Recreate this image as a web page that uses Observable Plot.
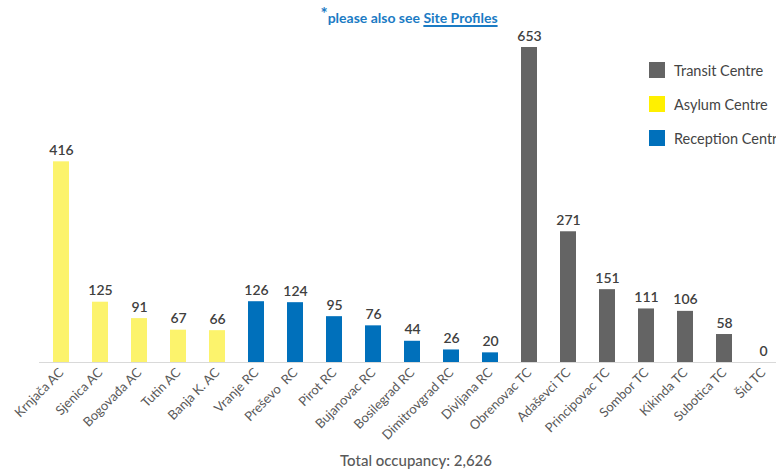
<!DOCTYPE html>
<html>
<head>
<meta charset="utf-8">
<script src="https://cdn.jsdelivr.net/npm/d3@7"></script>
<script src="https://cdn.jsdelivr.net/npm/@observablehq/plot@0.6"></script>
<style>
  html, body { margin: 0; padding: 0; background: #fff; }
  body { width: 776px; height: 473px; overflow: hidden; position: relative; font-family: Lato, "Open Sans", sans-serif; }
  #title { height: 28px; box-sizing: border-box; padding-left: 42px; text-align: center; font-weight: 700; font-size: 14px; color: #1b7bc4; line-height: 28px; padding-top: 4px; }
  #title sup { font-size: 17px; vertical-align: 3px; line-height: 0; }
  #title u { text-decoration-thickness: 1.5px; text-underline-offset: 2px; }
  #caption { height: 25px; padding-left: 56px; text-align: center; font-size: 15px; color: #595959; line-height: 25px; font-weight: 500; }
  #legend { position: absolute; left: 649px; top: 62px; }
  .item { display: flex; align-items: center; height: 16px; margin-bottom: 18px; white-space: nowrap; font-size: 14.5px; color: #444; }
  .sw { width: 16px; height: 16px; margin-right: 9px; flex: none; }
</style>
</head>
<body>
<div id="title"><sup>*</sup>please also see <u>Site Profiles</u></div>
<div id="chart"></div>
<div id="caption">Total occupancy: 2,626</div>
<div id="legend"></div>
<script>
const sites = ["Krnjača AC", "Sjenica AC", "Bogovađa AC", "Tutin AC", "Banja K. AC",
  "Vranje RC", "Preševo  RC", "Pirot RC", "Bujanovac RC", "Bosilegrad RC", "Dimitrovgrad RC", "Divljana RC",
  "Obrenovac TC", "Adaševci TC", "Principovac TC", "Sombor TC", "Kikinda TC", "Subotica TC", "Šid TC"];
const occupancy = [416, 125, 91, 67, 66, 126, 124, 95, 76, 44, 26, 20, 653, 271, 151, 111, 106, 58, 0];
const types = ["Asylum Centre", "Asylum Centre", "Asylum Centre", "Asylum Centre", "Asylum Centre",
  "Reception Centre", "Reception Centre", "Reception Centre", "Reception Centre", "Reception Centre", "Reception Centre", "Reception Centre",
  "Transit Centre", "Transit Centre", "Transit Centre", "Transit Centre", "Transit Centre", "Transit Centre", "Transit Centre"];
const legendTypes = ["Transit Centre", "Asylum Centre", "Reception Centre"];
const barColors = {"Transit Centre": "#646464", "Asylum Centre": "#fcf36c", "Reception Centre": "#0070bb"};
const legendColors = {"Transit Centre": "#646464", "Asylum Centre": "#fff000", "Reception Centre": "#0070bb"};

const data = sites.map((s, i) => ({site: s, value: occupancy[i], type: types[i]}));

const chart = Plot.plot({
  width: 776,
  height: 420,
  marginLeft: 39,
  marginRight: 0,
  marginTop: 19,
  marginBottom: 86,
  style: {fontFamily: "Lato, 'Open Sans', sans-serif", background: "#fff", overflow: "visible"},
  x: {domain: sites, range: [38.3, 785.6], paddingInner: 0.593, paddingOuter: 0.2965, label: null},
  y: {domain: [0, 653], range: [334, 19], axis: null},
  color: {domain: Object.keys(barColors), range: Object.values(barColors)},
  marks: [
    Plot.barY(data, {x: "site", y: "value", fill: "type"}),
    Plot.ruleY([0], {stroke: "#d9d9d9", strokeWidth: 1}),
    Plot.text(data, {x: "site", y: "value", text: d => String(d.value), dy: -7, lineAnchor: "bottom",
      fill: "#404040", fontSize: 14, fontWeight: 600}),
    Plot.axisX({tickRotate: -45, tickSize: 0, tickPadding: 8, fontSize: 13, fill: "#595959", label: null})
  ]
});
document.getElementById("chart").append(chart);

const legend = document.getElementById("legend");
for (const t of legendTypes) {
  const item = document.createElement("div");
  item.className = "item";
  const sw = document.createElement("span");
  sw.className = "sw";
  sw.style.background = legendColors[t];
  item.append(sw, document.createTextNode(t));
  legend.append(item);
}
</script>
</body>
</html>
